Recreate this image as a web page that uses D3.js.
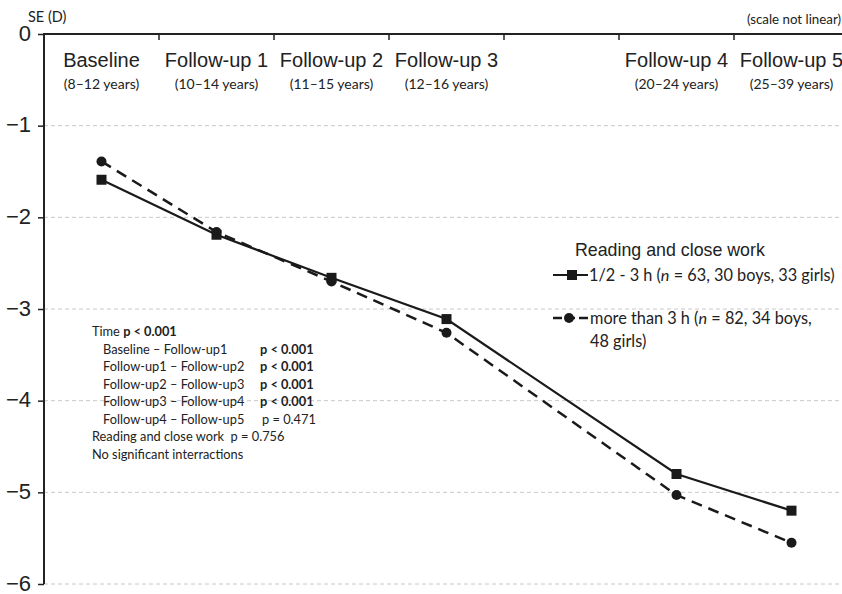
<!DOCTYPE html>
<html>
<head>
<meta charset="utf-8">
<script src="https://cdn.jsdelivr.net/npm/d3@7"></script>
<style>
  body { margin: 0; background: #fff; }
  svg { display: block; }
  text { white-space: pre; }
  .calib { font-family: Lato, "Open Sans", sans-serif; }
  .arial { font-family: "Liberation Sans", Arial, sans-serif; }
</style>
</head>
<body>
<svg id="chart" width="842" height="594"></svg>
<script>
// categories (the empty slot keeps the gap between follow-up 3 and 4)
const visits = ['Baseline', 'Follow-up 1', 'Follow-up 2', 'Follow-up 3', '', 'Follow-up 4', 'Follow-up 5'];
const ages = ['(8\u201312 years)', '(10\u201314 years)', '(11\u201315 years)', '(12\u201316 years)', '', '(20\u201324 years)', '(25\u201339 years)'];
const yTicks = [0, -1, -2, -3, -4, -5, -6];

// SE (D) values per visit
const visitsWithData = ['Baseline', 'Follow-up 1', 'Follow-up 2', 'Follow-up 3', 'Follow-up 4', 'Follow-up 5'];
const lowReading = [-1.59, -2.19, -2.66, -3.11, -4.80, -5.20];
const highReading = [-1.39, -2.16, -2.70, -3.26, -5.03, -5.55];

const statLines = [
  { a: 'Time ', b: 'p < 0.001', indent: 0, col: false },
  { a: 'Baseline \u2013 Follow-up1', b: 'p < 0.001', indent: 1, col: true },
  { a: 'Follow-up1 \u2013 Follow-up2', b: 'p < 0.001', indent: 1, col: true },
  { a: 'Follow-up2 \u2013 Follow-up3', b: 'p < 0.001', indent: 1, col: true },
  { a: 'Follow-up3 \u2013 Follow-up4', b: 'p < 0.001', indent: 1, col: true },
  { a: 'Follow-up4 \u2013 Follow-up5', c: 'p = 0.471', indent: 1, col: true },
  { a: 'Reading and close work  p = 0.756', indent: 0, col: false },
  { a: 'No significant interractions', indent: 0, col: false }
];

const svg = d3.select('#chart');
const mLeft = 44, mTop = 34, mBottom = 584, band = 115;

const x = d3.scaleBand()
  .domain(visits)
  .range([mLeft, mLeft + band * visits.length])
  .padding(0);
const cx = d => x(d) + x.bandwidth() / 2;

const y = d3.scaleLinear()
  .domain([-6, 0])
  .range([mBottom, mTop]);

// gridlines
svg.append('g')
  .selectAll('line')
  .data(yTicks.filter(d => d !== 0))
  .enter().append('line')
  .attr('x1', mLeft).attr('x2', 842)
  .attr('y1', d => y(d)).attr('y2', d => y(d))
  .attr('stroke', '#c8c8c8')
  .attr('stroke-width', 1)
  .attr('stroke-dasharray', '4,3');

// left axis
const yAxis = d3.axisLeft(y)
  .tickValues(yTicks)
  .tickSize(6)
  .tickPadding(7)
  .tickFormat(d => d === 0 ? '0' : '\u2212' + Math.abs(d));

const gy = svg.append('g')
  .attr('transform', 'translate(' + mLeft + ',0)')
  .call(yAxis);
gy.select('.domain').remove();
gy.selectAll('.tick line').attr('stroke', '#222').attr('stroke-width', 1.5);
gy.selectAll('.tick text')
  .attr('font-size', 22)
  .attr('dy', '0.28em')
  .attr('fill', '#222')
  .attr('font-family', '"Liberation Sans", Arial, sans-serif');
svg.append('line')
  .attr('x1', mLeft).attr('x2', mLeft)
  .attr('y1', mTop - 1).attr('y2', mBottom)
  .attr('stroke', '#222').attr('stroke-width', 2);

// top axis with visit separators
svg.append('line')
  .attr('x1', mLeft).attr('x2', 842)
  .attr('y1', mTop).attr('y2', mTop)
  .attr('stroke', '#222').attr('stroke-width', 2);
svg.append('g')
  .selectAll('line')
  .data(visits.slice(1))
  .enter().append('line')
  .attr('x1', d => x(d)).attr('x2', d => x(d))
  .attr('y1', mTop).attr('y2', mTop + 6)
  .attr('stroke', '#222').attr('stroke-width', 1.5);

// visit headers
svg.append('g')
  .selectAll('text')
  .data(visits)
  .enter().append('text')
  .attr('class', 'arial')
  .attr('x', d => cx(d))
  .attr('y', 67)
  .attr('text-anchor', 'middle')
  .attr('font-size', 20)
  .attr('fill', '#222')
  .text(d => d);
svg.append('g')
  .selectAll('text')
  .data(ages)
  .enter().append('text')
  .attr('class', 'calib')
  .attr('x', (d, i) => cx(visits[i]))
  .attr('y', 89)
  .attr('text-anchor', 'middle')
  .attr('font-size', 14)
  .attr('fill', '#222')
  .text(d => d);

svg.append('text')
  .attr('class', 'calib')
  .attr('x', 28).attr('y', 22)
  .attr('font-size', 14.5)
  .attr('fill', '#222')
  .text('SE (D)');
svg.append('text')
  .attr('class', 'calib')
  .attr('x', 841).attr('y', 24)
  .attr('text-anchor', 'end')
  .attr('font-size', 13.3)
  .attr('fill', '#222')
  .text('(scale not linear)');

// lines
const line = d3.line()
  .x((d, i) => cx(visitsWithData[i]))
  .y(d => y(d));

svg.append('path')
  .datum(highReading)
  .attr('d', line)
  .attr('fill', 'none')
  .attr('stroke', '#1a1a1a')
  .attr('stroke-width', 2.5)
  .attr('stroke-dasharray', '11,7');
svg.append('path')
  .datum(lowReading)
  .attr('d', line)
  .attr('fill', 'none')
  .attr('stroke', '#1a1a1a')
  .attr('stroke-width', 2.2);

svg.append('g')
  .selectAll('circle')
  .data(highReading)
  .enter().append('circle')
  .attr('cx', (d, i) => cx(visitsWithData[i]))
  .attr('cy', d => y(d))
  .attr('r', 5)
  .attr('fill', '#1a1a1a');
svg.append('g')
  .selectAll('rect')
  .data(lowReading)
  .enter().append('rect')
  .attr('x', (d, i) => cx(visitsWithData[i]) - 5)
  .attr('y', d => y(d) - 5)
  .attr('width', 10).attr('height', 10)
  .attr('fill', '#1a1a1a');

// legend
const lg = svg.append('g');
lg.append('text')
  .attr('class', 'arial')
  .attr('x', 575).attr('y', 256)
  .attr('font-size', 17.8)
  .attr('fill', '#222')
  .text('Reading and close work');
lg.append('line')
  .attr('x1', 553).attr('x2', 588).attr('y1', 275).attr('y2', 275)
  .attr('stroke', '#1a1a1a').attr('stroke-width', 2.2);
lg.append('rect')
  .attr('x', 567).attr('y', 270).attr('width', 10).attr('height', 10)
  .attr('fill', '#1a1a1a');
const t1 = lg.append('text')
  .attr('class', 'calib')
  .attr('x', 589).attr('y', 281)
  .attr('font-size', 16.3)
  .attr('fill', '#222');
t1.append('tspan').text('1/2 - 3 h (');
t1.append('tspan').attr('font-style', 'italic').text('n');
t1.append('tspan').text(' = 63, 30 boys, 33 girls)');

lg.append('line')
  .attr('x1', 553).attr('x2', 588).attr('y1', 318).attr('y2', 318)
  .attr('stroke', '#1a1a1a').attr('stroke-width', 2.5)
  .attr('stroke-dasharray', '9,4');
lg.append('circle')
  .attr('cx', 569).attr('cy', 318).attr('r', 5)
  .attr('fill', '#1a1a1a');
const t2 = lg.append('text')
  .attr('class', 'calib')
  .attr('x', 590).attr('y', 324)
  .attr('font-size', 16.3)
  .attr('fill', '#222');
t2.append('tspan').text('more than 3 h (');
t2.append('tspan').attr('font-style', 'italic').text('n');
t2.append('tspan').text(' = 82, 34 boys,');
lg.append('text')
  .attr('class', 'calib')
  .attr('x', 590).attr('y', 347)
  .attr('font-size', 16.3)
  .attr('fill', '#222')
  .text('48 girls)');

// statistics note
const note = svg.append('g')
  .selectAll('text')
  .data(statLines)
  .enter().append('text')
  .attr('class', 'calib')
  .attr('x', d => d.indent ? 103 : 92)
  .attr('y', (d, i) => 336 + i * 17.5)
  .attr('font-size', 12.8)
  .attr('fill', '#222');
note.append('tspan').text(d => d.a);
note.filter(d => d.b && !d.col).append('tspan').attr('font-weight', 'bold').text(d => d.b);
note.filter(d => d.b && d.col).append('tspan').attr('x', 260).attr('font-weight', 'bold').text(d => d.b);
note.filter(d => d.c).append('tspan').attr('x', 262).text(d => d.c);
</script>
</body>
</html>
